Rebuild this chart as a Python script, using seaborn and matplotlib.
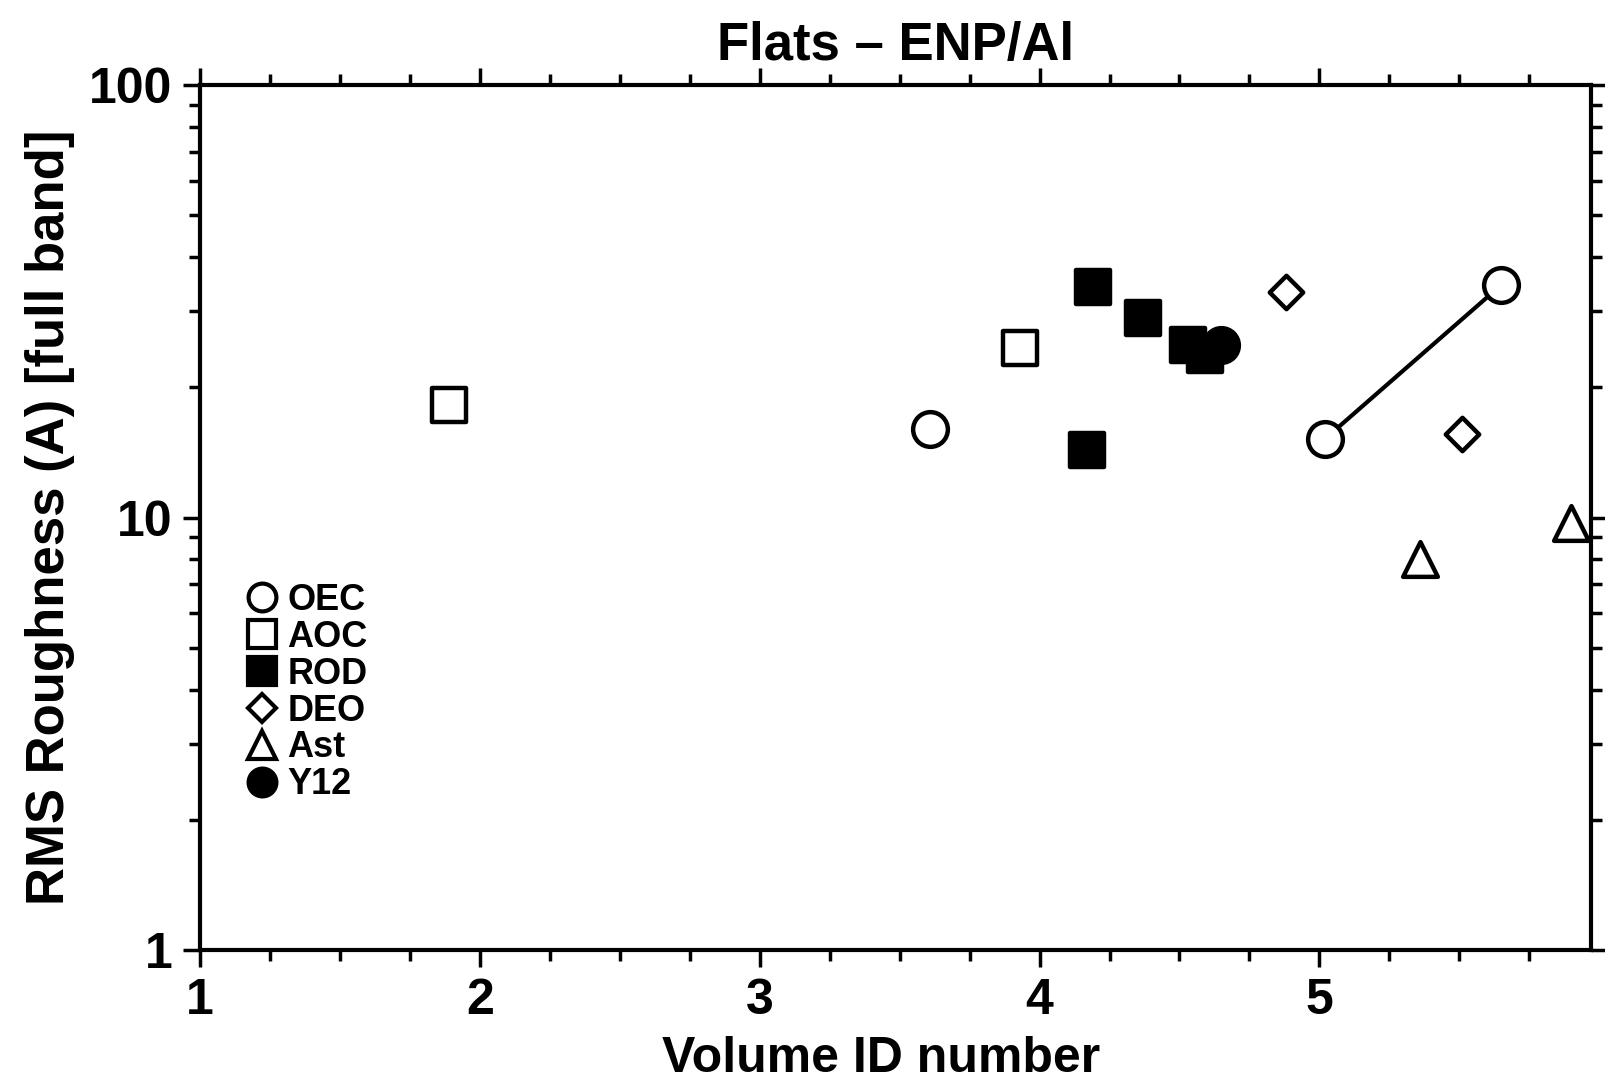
import matplotlib
matplotlib.use("Agg")
import matplotlib.pyplot as plt
import seaborn as sns
import pandas as pd
from matplotlib.lines import Line2D
from matplotlib.ticker import MultipleLocator, LogLocator, NullFormatter, FixedLocator, FixedFormatter

# ---- data ----
oec_x = [3.61, 5.02, 5.65]
oec_y = [16.0, 15.2, 34.5]
aoc_x = [1.89, 3.93]
aoc_y = [18.2, 24.6]
rod_x = [4.17, 4.19, 4.37, 4.53, 4.59]
rod_y = [14.3, 34.1, 29.0, 25.1, 23.8]
deo_x = [4.88, 5.51]
deo_y = [33.3, 15.6]
ast_x = [5.36, 5.90]
ast_y = [8.0, 9.7]
y12_x = [4.65]
y12_y = [25.1]
line_x = [5.02, 5.65]
line_y = [15.2, 34.5]

labels = ["OEC", "AOC", "ROD", "DEO", "Ast", "Y12"]
yticks = [1, 10, 100]
yticklabels = ["1", "10", "100"]
xticks = [1, 2, 3, 4, 5]

sns.set_theme(style="white")
plt.rcParams['font.family'] = ['Liberation Sans', 'DejaVu Sans']
plt.rcParams['font.weight'] = 'bold'
plt.rcParams['text.color'] = 'black'
plt.rcParams['axes.labelcolor'] = 'black'
plt.rcParams['xtick.color'] = 'black'
plt.rcParams['ytick.color'] = 'black'

fig = plt.figure(figsize=(16.06, 10.84), dpi=100)
ax = fig.add_axes([0.1245, 0.1236, 0.8661, 0.798])

lw = 3.2
ms = 25

sns.lineplot(x=line_x, y=line_y, ax=ax, color="black", linewidth=3, zorder=2)

series = [
    (oec_x, oec_y, "o", "white", ms),
    (aoc_x, aoc_y, "s", "white", ms),
    (rod_x, rod_y, "s", "black", ms),
    (deo_x, deo_y, "D", "white", 17),
    (ast_x, ast_y, "^", "white", ms),
    (y12_x, y12_y, "o", "black", ms),
]
for xs, ys, mk, fc, size in series:
    df = pd.DataFrame({"x": xs, "y": ys})
    sns.scatterplot(data=df, x="x", y="y", ax=ax, marker=mk, s=size ** 2,
                    facecolor=fc, edgecolor="black", linewidth=lw, zorder=3,
                    clip_on=False)

ax.set_yscale("log")
ax.set_xlim(1, 5.97)
ax.set_ylim(1, 100)

ax.xaxis.set_major_locator(FixedLocator(xticks))
ax.xaxis.set_minor_locator(MultipleLocator(0.25))
ax.yaxis.set_major_locator(FixedLocator(yticks))
ax.yaxis.set_major_formatter(FixedFormatter(yticklabels))
ax.yaxis.set_minor_locator(LogLocator(base=10, subs=range(2, 10)))
ax.yaxis.set_minor_formatter(NullFormatter())

ax.tick_params(which="both", direction="out", top=True, right=True,
               bottom=True, left=True, color="black", width=2.5)
ax.tick_params(which="major", length=12, labelsize=36, pad=8)
ax.tick_params(which="minor", length=8)
for lab in ax.get_xticklabels() + ax.get_yticklabels():
    lab.set_fontweight("bold")
    lab.set_color("black")

for sp in ax.spines.values():
    sp.set_visible(True)
    sp.set_color("black")
    sp.set_linewidth(3)

ax.set_xlabel("Volume ID number", fontsize=36, fontweight="bold", color="black")
ax.xaxis.label.set_va("bottom")
ax.xaxis.set_label_coords(0.49, -0.152)
ax.set_ylabel("RMS Roughness (A) [full band]", fontsize=38, fontweight="bold", labelpad=10, color="black")
ax.set_title("Flats \u2013 ENP/Al", fontsize=38, fontweight="bold", pad=18, color="black")

hs = 20
handles = [
    Line2D([], [], linestyle="none", marker="o", markersize=hs, markerfacecolor="white", markeredgecolor="black", markeredgewidth=3),
    Line2D([], [], linestyle="none", marker="s", markersize=hs, markerfacecolor="white", markeredgecolor="black", markeredgewidth=3),
    Line2D([], [], linestyle="none", marker="s", markersize=hs, markerfacecolor="black", markeredgecolor="black", markeredgewidth=3),
    Line2D([], [], linestyle="none", marker="D", markersize=14, markerfacecolor="white", markeredgecolor="black", markeredgewidth=3),
    Line2D([], [], linestyle="none", marker="^", markersize=hs, markerfacecolor="white", markeredgecolor="black", markeredgewidth=3),
    Line2D([], [], linestyle="none", marker="o", markersize=hs, markerfacecolor="black", markeredgecolor="black", markeredgewidth=3),
]
leg = ax.legend(handles, labels, loc="upper left", bbox_to_anchor=(0.02, 0.445),
                frameon=False, fontsize=26, handlelength=0.9, handletextpad=0.25,
                labelspacing=0.05, borderpad=0)
for t in leg.get_texts():
    t.set_fontweight("bold")
    t.set_color("black")

fig.savefig("out.png", dpi=100, facecolor="white")
